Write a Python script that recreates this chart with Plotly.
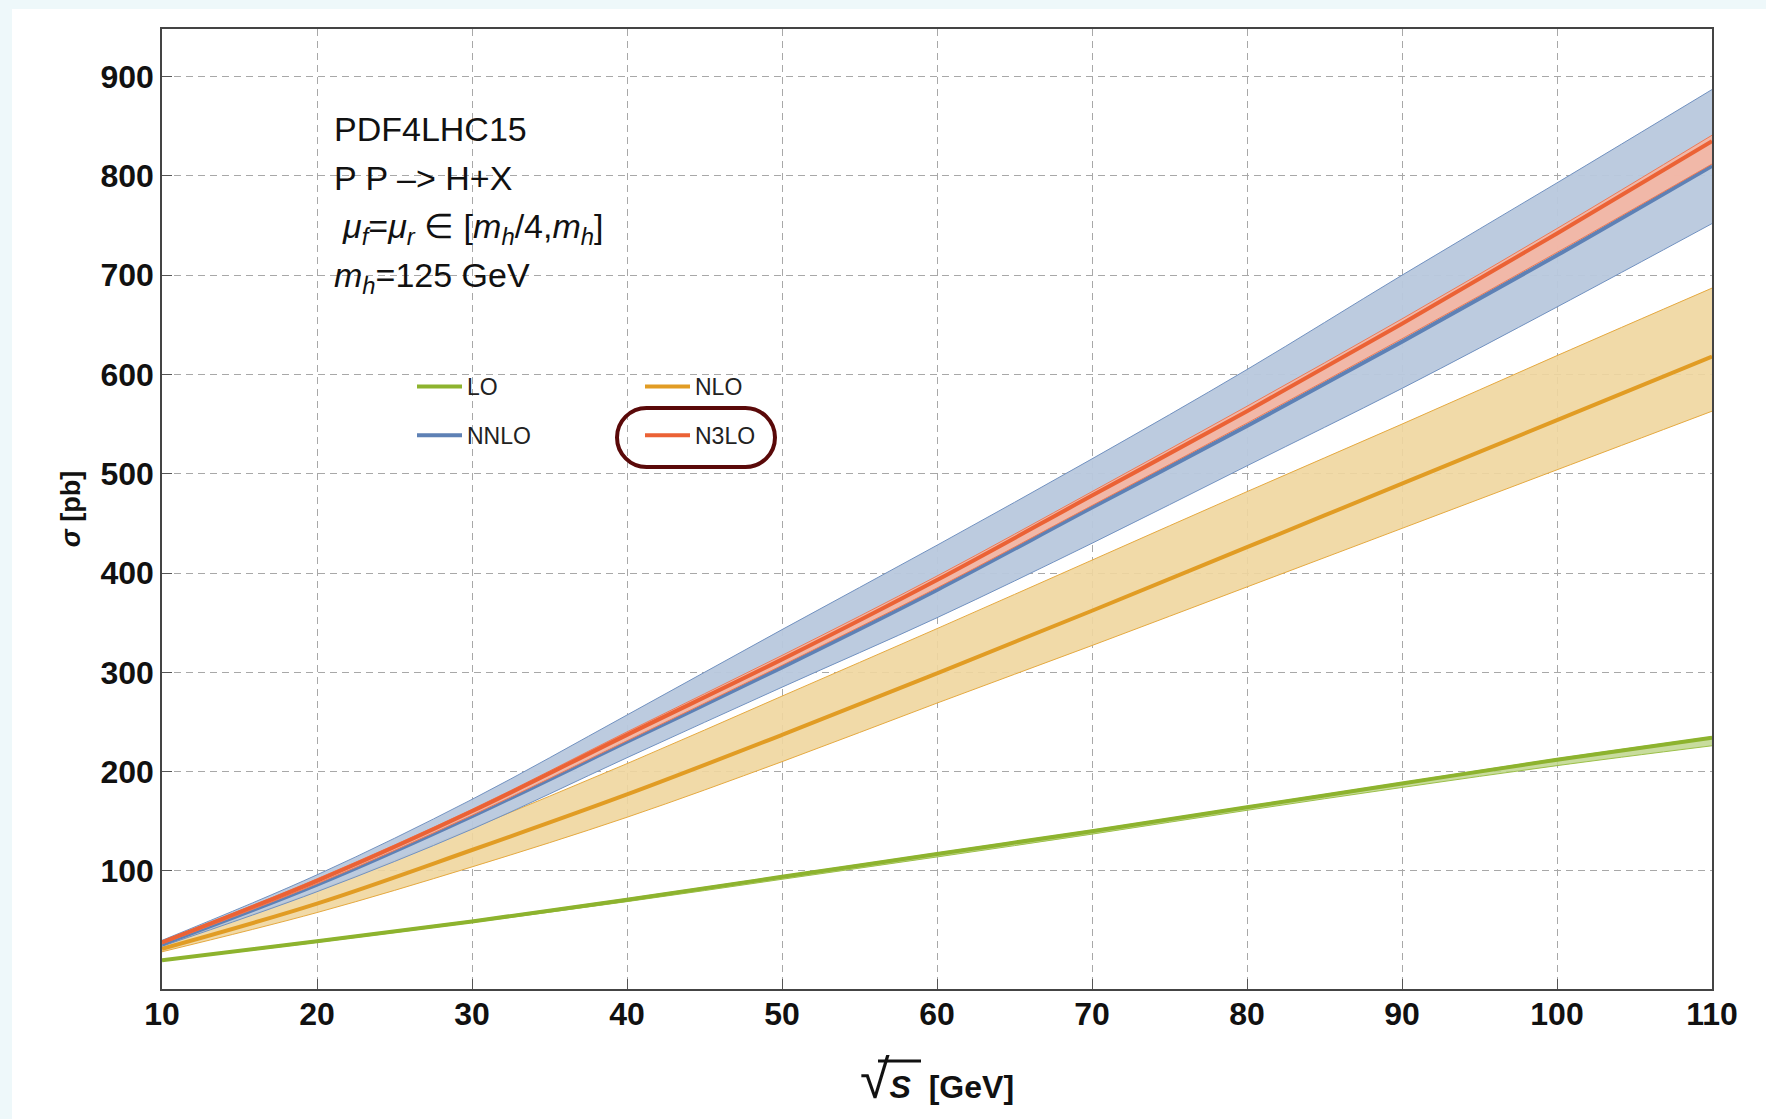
import plotly.graph_objects as go

# ---------------- data ----------------
sqrt_s = [10, 20, 30, 40, 50, 60, 70, 80, 90, 100, 110]

lo_central = [10, 29, 49, 71, 94, 117, 140, 164, 188, 212, 234]
lo_lower   = [9.5, 28, 48, 69, 91.5, 114, 137, 161, 184, 206, 226]
lo_upper   = [10.5, 30, 50, 72, 95, 118, 141, 165, 189, 213, 235]

nlo_central = [21.5, 67, 121, 177, 237, 299, 362, 426, 490, 554, 618]
nlo_lower   = [18.5, 58, 104, 154, 210, 269, 327, 386, 445, 504, 563]
nlo_upper   = [25, 80, 143, 208, 276, 344, 413, 482, 550, 619, 687]

nnlo_central = [26, 86, 155, 230, 305, 383, 466, 548, 633, 720, 810]
nnlo_lower   = [24, 79, 142, 214, 285, 355, 430, 508, 586, 668, 752]
nnlo_upper   = [30, 96, 172, 257, 343, 428, 515, 605, 700, 793, 887]

n3lo_central = [28, 90, 160, 237, 313, 393, 478, 563, 651, 742, 835]
n3lo_lower   = [26.5, 87, 156, 231, 307, 385, 468, 551, 636, 723, 812]
n3lo_upper   = [29, 92, 162, 240, 317, 397, 482, 568, 656, 747, 841]

x_ticks = [10, 20, 30, 40, 50, 60, 70, 80, 90, 100, 110]
y_ticks = [100, 200, 300, 400, 500, 600, 700, 800, 900]

series = [
    # name, central, lower, upper, line colour, band fill, band edge, legend
    ("LO", lo_central, lo_lower, lo_upper, "#8db32e", "rgba(190,214,140,0.85)", "#9cc048", "legend"),
    ("NLO", nlo_central, nlo_lower, nlo_upper, "#e19c24", "rgba(240,214,158,0.9)", "#e5a940", "legend2"),
    ("NNLO", nnlo_central, nnlo_lower, nnlo_upper, "#5e81b5", "rgba(184,200,221,0.95)", "#7191c0", "legend"),
    ("N3LO", n3lo_central, n3lo_lower, n3lo_upper, "#eb6235", "rgba(243,182,164,0.95)", "#ee7a55", "legend2"),
]

fig = go.Figure()
for name, cen, low, up, lc, fc, ec, lg in series:
    fig.add_trace(go.Scatter(x=sqrt_s, y=low, mode="lines", line_shape="spline",
                             line=dict(color=ec, width=1), showlegend=False,
                             hoverinfo="skip"))
    fig.add_trace(go.Scatter(x=sqrt_s, y=up, mode="lines", fill="tonexty", line_shape="spline",
                             fillcolor=fc, line=dict(color=ec, width=1),
                             showlegend=False, hoverinfo="skip"))
    fig.add_trace(go.Scatter(x=sqrt_s, y=cen, mode="lines", name=name, line_shape="spline",
                             line=dict(color=lc, width=4),
                             legend=lg, legendgroup=name))

# ---------------- layout geometry ----------------
W, H = 1766, 1119
L, R, T, B = 162, 1712, 29, 989
pw, ph = R - L, B - T

def px(xp):
    return (xp - L) / pw

def py(yp):
    return (B - yp) / ph

axis_font = dict(family="Liberation Sans, Arial, sans-serif", size=32, color="#111")

fig.update_layout(
    width=W, height=H,
    margin=dict(l=L, r=W - R, t=T, b=H - B, pad=0),
    paper_bgcolor="#eef8fa",
    plot_bgcolor="white",
    font=dict(family="Liberation Sans, Arial, sans-serif", color="#111"),
    xaxis=dict(range=[10, 110], tickvals=x_ticks, ticktext=[str(v) for v in x_ticks],
               ticks="inside", ticklen=10, tickwidth=1.2, tickcolor="#555",
               showline=True, mirror=True, linecolor="#444", linewidth=1.5,
               showgrid=True, gridcolor="#a8a8a8", gridwidth=1, griddash="7px,5px",
               zeroline=False, tickfont=dict(**axis_font, weight="bold"),
               ticklabelstandoff=-4,
               title=dict(text="<span style='font-size:54px;font-weight:normal'>√</span><i>S</i>  [GeV]",
                          font=dict(family="Liberation Sans, Arial, sans-serif", size=32,
                                    color="#111", weight="bold"),
                          standoff=44)),
    yaxis=dict(range=[-19, 948], tickvals=y_ticks, ticktext=[str(v) for v in y_ticks],
               ticks="inside", ticklen=10, tickwidth=1.2, tickcolor="#555",
               showline=True, mirror=True, linecolor="#444", linewidth=1.5,
               showgrid=True, gridcolor="#a8a8a8", gridwidth=1, griddash="7px,5px",
               zeroline=False, tickfont=dict(**axis_font, weight="bold"),
               ticklabelstandoff=0,
               title=dict(text="<i>σ</i> [pb]",
                          font=dict(family="Liberation Sans, Arial, sans-serif", size=27,
                                    color="#111", weight="bold"),
                          standoff=12)),
    legend=dict(x=px(412), y=py(365), xanchor="left", yanchor="top",
                bgcolor="rgba(0,0,0,0)", font=dict(size=23, color="#222"),
                tracegroupgap=16, itemwidth=45),
    legend2=dict(x=px(640), y=py(365), xanchor="left", yanchor="top",
                 bgcolor="rgba(0,0,0,0)", font=dict(size=23, color="#222"),
                 tracegroupgap=16, itemwidth=45),
    showlegend=True,
)

# white panel behind the chart
fig.add_shape(type="rect", xref="paper", yref="paper",
              x0=px(12), x1=px(W + 20), y0=py(H + 20), y1=py(9),
              fillcolor="white", line=dict(width=0), layer="below")

# rounded outline around the N3LO legend entry
x0p, x1p, y0p, y1p = 617, 775, 408, 467
r = (y1p - y0p) / 2
k = 0.55

def P(xp, yp):
    return f"{px(xp):.5f},{py(yp):.5f}"

path = (f"M {P(x0p + r, y0p)} L {P(x1p - r, y0p)} "
        f"C {P(x1p - r + k * r, y0p)} {P(x1p, y0p + r - k * r)} {P(x1p, y0p + r)} "
        f"C {P(x1p, y0p + r + k * r)} {P(x1p - r + k * r, y1p)} {P(x1p - r, y1p)} "
        f"L {P(x0p + r, y1p)} "
        f"C {P(x0p + r - k * r, y1p)} {P(x0p, y1p - r + k * r)} {P(x0p, y1p - r)} "
        f"C {P(x0p, y0p + r - k * r)} {P(x0p + r - k * r, y0p)} {P(x0p + r, y0p)} Z")
fig.add_shape(type="path", xref="paper", yref="paper", path=path,
              line=dict(color="#5a0909", width=4))

# radical bar over S in the x-axis title
fig.add_shape(type="line", xref="paper", yref="paper",
              x0=px(878), x1=px(921), y0=py(1061), y1=py(1061),
              line=dict(color="#111", width=3))

# annotation text block
ann_font = dict(family="Liberation Sans, Arial, sans-serif", size=34, color="#111")
lines = [
    ("PDF4LHC15", 332, 129),
    ("P P –> H+X", 332, 178),
    ("<i>μ<sub>f</sub></i>=<i>μ<sub>r</sub></i> ∈ [<i>m<sub>h</sub></i>/4,<i>m<sub>h</sub></i>]", 340, 228),
    ("<i>m<sub>h</sub></i>=125 GeV", 332, 277),
]
for txt, xp, yp in lines:
    fig.add_annotation(text=txt, xref="paper", yref="paper", x=px(xp), y=py(yp),
                       xanchor="left", yanchor="middle", showarrow=False, font=ann_font)

fig.write_html("out.html", config={"displayModeBar": False},
               post_script="document.body.style.margin='0';document.body.style.overflow='hidden';")
